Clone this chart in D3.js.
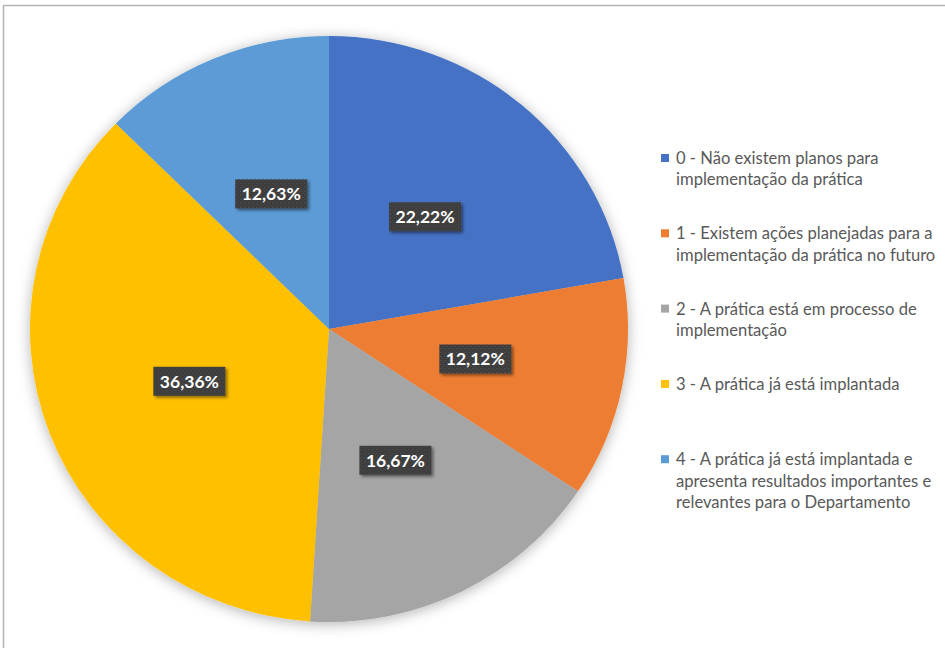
<!DOCTYPE html>
<html>
  <head>
    <meta charset="utf-8">
    <script src="https://d3js.org/d3.v7.min.js"></script>
    <style>
      body { margin: 0; background: #fff; }
      svg { display: block; }
    </style>
  </head>
  <body>
    <script type="text/javascript">
      "use strict";

      // chart data
      var categories = [
        "0 - Não existem planos para implementação da prática",
        "1 - Existem ações planejadas para a implementação da prática no futuro",
        "2 - A prática está em processo de implementação",
        "3 - A prática já está implantada",
        "4 - A prática já está implantada e apresenta resultados importantes e relevantes para o Departamento"
      ];
      // legend lines as they wrap in the original
      var legendLines = [
        ["0 - Não existem planos para", "implementação da prática"],
        ["1 - Existem ações planejadas para a", "implementação da prática no futuro"],
        ["2 - A prática está em processo de", "implementação"],
        ["3 - A prática já está implantada"],
        ["4 - A prática já está implantada e", "apresenta resultados importantes e", "relevantes para o Departamento"]
      ];
      var values = [22.22, 12.12, 16.67, 36.36, 12.63];
      var colors = ["#4472C4", "#ED7D31", "#A5A5A5", "#FFC000", "#5B9BD5"];

      var width = 945, height = 648;
      // the original pie is a little wider than tall
      var cx = 329, cy = 329, radius = 293, stretchX = 299 / 293;

      var svg = d3.select("body")
        .append("svg")
          .attr("width", width)
          .attr("height", height);

      var defs = svg.append("defs");

      // soft shadow around the pie
      var pieShadow = defs.append("filter")
          .attr("id", "pieShadow")
          .attr("x", "-20%").attr("y", "-20%")
          .attr("width", "140%").attr("height", "140%");
      pieShadow.append("feDropShadow")
          .attr("dx", 0).attr("dy", 2)
          .attr("stdDeviation", 7)
          .attr("flood-color", "#000")
          .attr("flood-opacity", 0.3);

      // label box shadow
      var boxShadow = defs.append("filter")
          .attr("id", "boxShadow")
          .attr("x", "-20%").attr("y", "-30%")
          .attr("width", "150%").attr("height", "170%");
      boxShadow.append("feDropShadow")
          .attr("dx", 2).attr("dy", 2)
          .attr("stdDeviation", 1.5)
          .attr("flood-color", "#000")
          .attr("flood-opacity", 0.45);

      // dotted dark fill for labels
      var pat = defs.append("pattern")
          .attr("id", "dots")
          .attr("width", 4).attr("height", 4)
          .attr("patternUnits", "userSpaceOnUse");
      pat.append("rect").attr("width", 4).attr("height", 4).attr("fill", "#3c3c3c");
      pat.append("rect").attr("x", 1).attr("y", 1).attr("width", 1).attr("height", 1).attr("fill", "#5a5a5a");
      pat.append("rect").attr("x", 3).attr("y", 3).attr("width", 1).attr("height", 1).attr("fill", "#4e4e4e");

      // chart area border
      svg.append("rect")
          .attr("x", 3.5).attr("y", 5.5)
          .attr("width", 1000).attr("height", 1000)
          .attr("fill", "none")
          .attr("stroke", "#b5b5b5")
          .attr("stroke-width", 1.5);

      var pie = d3.pie().sort(null).value(function (d) { return d; });
      var arcs = pie(values);
      var arc = d3.arc().innerRadius(0).outerRadius(radius);

      var g = svg.append("g").attr("transform", "translate(" + cx + "," + cy + ")");

      g.append("g")
          .attr("filter", "url(#pieShadow)")
        .append("g")
          .attr("transform", "scale(" + stretchX + ",1)")
        .selectAll("path")
        .data(arcs)
        .enter().append("path")
          .attr("d", arc)
          .attr("fill", function (d, i) { return colors[i]; });

      // data labels
      var fmt = function (v) { return v.toFixed(2).replace(".", ",") + "%"; };
      var labels = g.selectAll("g.lbl")
        .data(arcs)
        .enter().append("g")
          .attr("class", "lbl")
          .attr("transform", function (d) {
            var c = arc.centroid(d);
            return "translate(" + (c[0] * stretchX) + "," + c[1] + ")";
          });

      labels.append("rect")
          .attr("x", -36).attr("y", -14.5)
          .attr("width", 72).attr("height", 29)
          .attr("fill", "url(#dots)")
          .attr("filter", "url(#boxShadow)");

      labels.append("text")
          .attr("text-anchor", "middle")
          .attr("dy", "0.36em")
          .style("font-family", "Lato, 'Open Sans', sans-serif")
          .style("font-weight", "bold")
          .style("font-size", "17.5px")
          .style("fill", "#fff")
          .text(function (d) { return fmt(d.data); });

      // legend
      var legend = svg.append("g")
          .style("font-family", "Lato, 'Open Sans', sans-serif")
          .style("font-size", "16.6px")
          .style("fill", "#595959");

      var legendX = 661, legendY0 = 158, entryStep = 75.3, lineStep = 21.5;

      var items = legend.selectAll("g")
        .data(categories)
        .enter().append("g")
          .attr("transform", function (d, i) {
            return "translate(" + legendX + "," + (legendY0 + i * entryStep) + ")";
          });

      items.append("rect")
          .attr("x", 0).attr("y", -4)
          .attr("width", 8).attr("height", 8)
          .attr("fill", function (d, i) { return colors[i]; });

      items.append("text")
          .attr("x", 15)
          .each(function (d, i) {
            d3.select(this).selectAll("tspan")
              .data(legendLines[i])
              .enter().append("tspan")
                .attr("x", 15)
                .attr("y", function (t, j) { return j * lineStep; })
                .attr("dy", "0.36em")
                .text(function (t) { return t; });
          });
    </script>
  </body>
</html>
